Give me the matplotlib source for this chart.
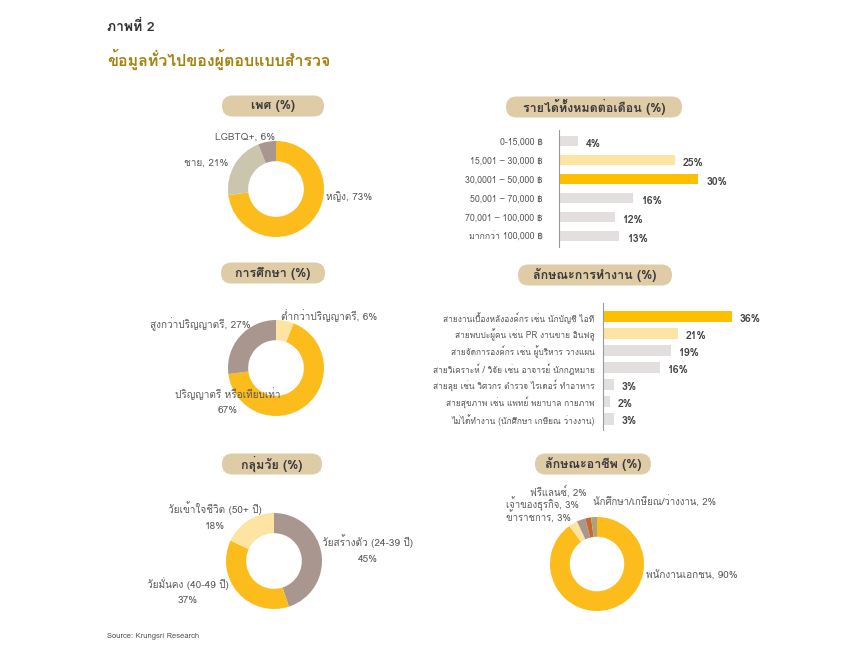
import matplotlib
matplotlib.use("Agg")
import matplotlib.pyplot as plt
from matplotlib import font_manager
from matplotlib.ft2font import FT2Font
from matplotlib.patches import FancyBboxPatch

# find a font that has Thai glyphs
thai_font = None
for f in font_manager.fontManager.ttflist:
    try:
        if 0x0E01 in FT2Font(f.fname).get_charmap():
            thai_font = f.name
            break
    except Exception:
        pass
fams = [thai_font, "DejaVu Sans"] if thai_font else ["DejaVu Sans"]
plt.rcParams["font.family"] = fams

# data
gender_labels = ["หญิง, 73%", "ชาย, 21%", "LGBTQ+, 6%"]
gender_vals = [73, 21, 6]

edu_labels = ["ต่ำกว่าปริญญาตรี, 6%", "ปริญญาตรี หรือเทียบเท่า\n67%", "สูงกว่าปริญญาตรี, 27%"]
edu_vals = [6, 67, 27]

age_labels = ["วัยสร้างตัว (24-39 ปี)\n45%", "วัยมั่นคง (40-49 ปี)\n37%", "วัยเข้าใจชีวิต (50+ ปี)\n18%"]
age_vals = [45, 37, 18]

occ_labels = ["พนักงานเอกชน, 90%", "ข้าราชการ, 3%", "เจ้าของธุรกิจ, 3%", "ฟรีแลนซ์, 2%",
              "นักศึกษา/เกษียณ/ว่างงาน, 2%"]
occ_vals = [90, 3, 3, 2, 2]

income_labels = ["0-15,000 ฿", "15,001 – 30,000 ฿", "30,0001 – 50,000 ฿",
                 "50,001 – 70,000 ฿", "70,001 – 100,000 ฿", "มากกว่า 100,000 ฿"]
income_vals = [4, 25, 30, 16, 12, 13]

work_labels = ["สายงานเบื้องหลังองค์กร เช่น นักบัญชี ไอที",
               "สายพบปะผู้คน เช่น PR งานขาย อินฟลู",
               "สายจัดการองค์กร เช่น ผู้บริหาร วางแผน",
               "สายวิเคราะห์ / วิจัย เช่น อาจารย์ นักกฎหมาย",
               "สายลุย เช่น วิศวกร ตำรวจ ไรเดอร์ ทำอาหาร",
               "สายสุขภาพ เช่น แพทย์ พยาบาล กายภาพ",
               "ไม่ได้ทำงาน (นักศึกษา เกษียณ ว่างงาน)"]
work_vals = [36, 21, 19, 16, 3, 2, 3]

YEL = "#FBBC1C"
LYEL = "#FDE4A2"
GREYBR = "#A8968F"
BEIGE = "#CBC5AE"
ORANGE = "#C9682C"
OLIVE = "#A9A27C"
BARGREY = "#E2DFDE"
PILL = "#DFCBA6"
TXT = "#595959"

W, H = 860, 652
fig = plt.figure(figsize=(8.6, 6.52), dpi=100)
fig.patch.set_facecolor("white")


def pill(cx, cy, w, text):
    ax = fig.add_axes([0, 0, 1, 1], zorder=-1)
    ax.set_xlim(0, W)
    ax.set_ylim(H, 0)
    ax.axis("off")
    h = 21
    ax.add_patch(FancyBboxPatch((cx - w / 2, cy - h / 2), w, h,
                                boxstyle="round,pad=0,rounding_size=10.5",
                                fc=PILL, ec="none"))
    ax.text(cx, cy, text, ha="center", va="center", fontsize=9,
            fontweight="bold", color="#3C3C3C")


def donut(cx, cy, r, vals, colors):
    ax = fig.add_axes([(cx - r) / W, 1 - (cy + r) / H, 2 * r / W, 2 * r / H])
    ax.pie(vals, colors=colors, startangle=90, counterclock=False,
           wedgeprops=dict(width=0.42, edgecolor="none"))
    ax.set_xlim(-1, 1)
    ax.set_ylim(-1, 1)
    ax.set_aspect("equal")
    return ax


def label(x, y, text, ha="left", size=7.2):
    fig.text(x / W, 1 - y / H, text, ha=ha, va="center", fontsize=size,
             color=TXT, linespacing=1.9)


# header
fig.text(107 / W, 1 - 27 / H, "ภาพที่ 2", fontsize=10, fontweight="bold",
         color="#333333", va="center")
fig.text(107 / W, 1 - 59 / H, "ข้อมูลทั่วไปของผู้ตอบแบบสำรวจ", fontsize=11.5,
         fontweight="bold", color="#A8820F", va="center")

# pills
pill(273, 106, 102, "เพศ (%)")
pill(594, 107, 176, "รายได้ทั้งหมดต่อเดือน (%)")
pill(273, 273, 104, "การศึกษา (%)")
pill(595, 275, 154, "ลักษณะการทำงาน (%)")
pill(272, 464, 100, "กลุ่มวัย (%)")
pill(593, 464, 116, "ลักษณะอาชีพ (%)")

# donuts
donut(276, 189, 48, gender_vals, [YEL, BEIGE, GREYBR])
label(326, 197, gender_labels[0])
label(228, 163, gender_labels[1], ha="right")
label(245, 137, gender_labels[2], ha="center")

donut(276, 368, 48, edu_vals, [LYEL, YEL, GREYBR])
label(281, 316, edu_labels[0])
label(228, 401, edu_labels[1], ha="center")
label(200, 324, edu_labels[2], ha="center")

donut(274, 561, 48, age_vals, [GREYBR, YEL, LYEL])
label(368, 549, age_labels[0], ha="center")
label(188, 591, age_labels[1], ha="center")
label(215, 516, age_labels[2], ha="center")

donut(597, 564, 47, occ_vals, [YEL, LYEL, GREYBR, ORANGE, OLIVE])
label(646, 576, occ_labels[0])
label(538, 517, occ_labels[1], ha="center", size=6.9)
label(543, 504, occ_labels[2], ha="center", size=6.9)
label(558, 491, occ_labels[3], ha="center", size=6.9)
label(593, 501, occ_labels[4], size=6.9)

# income bars
ax1 = fig.add_axes([559 / W, 1 - 247 / H, (698 - 559) / W * 40 / 30, (247 - 130) / H])
inc_colors = [BARGREY, LYEL, "#FCC000", BARGREY, BARGREY, BARGREY]
y1 = list(range(len(income_vals)))
ax1.barh(y1, income_vals, height=0.52, color=inc_colors)
ax1.set_ylim(len(income_vals) - 0.4, -0.6)
ax1.set_xlim(0, 40)
ax1.set_yticks(y1)
ax1.set_yticklabels(income_labels, fontsize=6.3, color=TXT)
ax1.tick_params(axis="y", length=0, pad=12)
ax1.set_xticks([])
for s in ["top", "right", "bottom"]:
    ax1.spines[s].set_visible(False)
ax1.spines["left"].set_color("#9A9A9A")
for i, v in enumerate(income_vals):
    ax1.text(v + 1.8, i + 0.15, f"{v}%", va="center", fontsize=7.5,
             fontweight="bold", color="#444444")

# work bars
ax2 = fig.add_axes([603 / W, 1 - 430 / H, (732 - 603) / W * 45 / 36, (430 - 303) / H])
work_colors = ["#FCC000", LYEL] + [BARGREY] * 5
y2 = list(range(len(work_vals)))
ax2.barh(y2, work_vals, height=0.66, color=work_colors)
ax2.set_ylim(len(work_vals) - 0.35, -0.8)
ax2.set_xlim(0, 45)
ax2.set_yticks(y2)
ax2.set_yticklabels(work_labels, fontsize=6.0, color=TXT)
ax2.tick_params(axis="y", length=0, pad=6)
ax2.set_xticks([])
for s in ["top", "right", "bottom"]:
    ax2.spines[s].set_visible(False)
ax2.spines["left"].set_color("#9A9A9A")
for i, v in enumerate(work_vals):
    ax2.text(v + 2.2, i + 0.15, f"{v}%", va="center", fontsize=7.5,
             fontweight="bold", color="#444444")

fig.text(107 / W, 1 - 636 / H, "Source: Krungsri Research", fontsize=5.5,
         color="#555555", va="center")

fig.savefig("out.png", dpi=100, facecolor="white")
